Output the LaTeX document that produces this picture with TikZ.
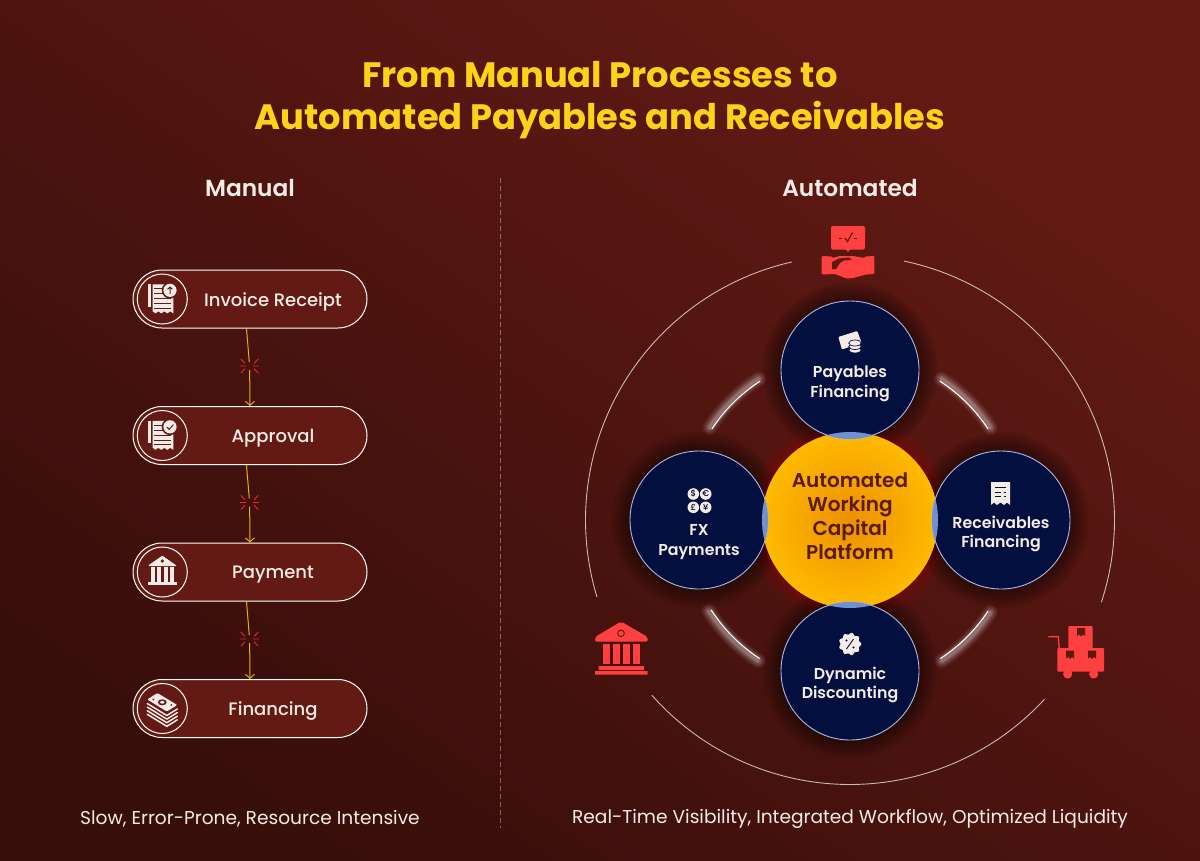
\documentclass[tikz,border=0pt]{standalone}
\usepackage{fontspec}
\setmainfont{Poppins}
\newfontfamily\pmed{Poppins Medium}
\newfontfamily\psemi{Poppins SemiBold}
\newfontfamily\pbold{Poppins Bold}
\usetikzlibrary{arrows.meta}
\definecolor{bgtop}{HTML}{631A14}
\definecolor{bgbot}{HTML}{380E0B}
\definecolor{pillred}{HTML}{641A14}
\definecolor{gold}{HTML}{FFD21A}
\definecolor{conn}{HTML}{E6B017}
\definecolor{burst}{HTML}{E8282E}
\definecolor{navy}{HTML}{03103F}
\definecolor{lens}{HTML}{7090D2}
\definecolor{rim}{HTML}{A5BAE6}
\definecolor{iconred}{HTML}{FF4040}
\definecolor{ink}{HTML}{F5ECE8}
\definecolor{darkbrown}{HTML}{5C1A0C}
\definecolor{coreout}{HTML}{FFBA00}
\definecolor{corein}{HTML}{EC9000}
\tikzset{
  pillbox/.style={draw=white,line width=1pt,fill=pillred,rectangle,rounded corners=29pt,minimum width=234pt,minimum height=58pt,inner sep=0pt},
  iconring/.style={draw=white,line width=1pt,fill=pillred,circle,minimum size=50pt,inner sep=0pt},
  pilltext/.style={text=ink,font=\pmed\fontsize{18}{22}\selectfont},
  headtext/.style={text=ink,font=\psemi\fontsize{23.3}{28}\selectfont},
  foottext/.style={text=ink,font=\fontsize{18.6}{22}\selectfont},
  titletext/.style={text=gold,font=\pbold\fontsize{35.3}{42}\selectfont,align=center},
  orbtext/.style={text=ink,font=\psemi\fontsize{15.8}{19.5}\selectfont,align=center},
  coretext/.style={text=darkbrown,font=\psemi\fontsize{20}{24}\selectfont,align=center},
  orb/.style={circle,minimum size=138pt,inner sep=0pt,fill=navy,draw=rim,line width=0.9pt},
  burstpt/.style={circle,minimum size=8pt,inner sep=0pt},
  link/.style={draw=conn,line width=1pt},
  arrowlink/.style={link,-{Straight Barb[length=4pt,width=9pt]}},
  ticks/.style={draw=burst,line width=0.9pt},
  outerring/.style={draw=white,draw opacity=0.7,line width=0.9pt},
  darkline/.style={draw=pillred,line width=0.9pt},
  navyline/.style={draw=navy,line width=0.9pt}
}
\newcommand{\docbody}[2]{%
 \begin{scope}[shift={(#1,#2)}]
  \fill[ink] (-14,-14.7) rectangle (-11.6,7.7);
  \fill[ink] (-9.6,-14.7) -- (11,-14.7) -- (11,14.3) -- (8,12.3) -- (5,14.3) -- (2,12.3) -- (-1,14.3) -- (-4,12.3) -- (-6.8,14.3) -- (-9.6,12.3) -- cycle;
  \draw[darkline] (-8,-10.5) -- (0,-10.5) (-8,-5.5) -- (2,-5.5) (-8,-0.5) -- (9,-0.5) (-8,4.5) -- (9,4.5) (-8,9) -- (9,9);
  \fill[pillred] (7.7,-8.7) circle[radius=8.3];
  \fill[ink] (7.7,-8.7) circle[radius=6.6];
 \end{scope}}
\newcommand{\burstmark}[2]{%
 \draw[ticks] (#1-9.5,#2) -- (#1-3.5,#2) (#1+3.5,#2) -- (#1+9.5,#2)
   (#1-8.7,#2-7) -- (#1-4.5,#2-2.7) (#1+8.7,#2-7) -- (#1+4.5,#2-2.7)
   (#1-8.7,#2+7) -- (#1-4.5,#2+2.7) (#1+8.7,#2+7) -- (#1+4.5,#2+2.7);}
\newcommand{\glowarc}[2]{%
 \foreach \w/\o in {15/0.05,12/0.07,9/0.09,6/0.12,3.5/0.15}{%
  \draw[white,opacity=\o,line width=\w pt,line cap=round] plot[domain=#1:#2,samples=40] ({850+168*cos(\x)},{520-168*sin(\x)});}
 \draw[white,line width=1.1pt] plot[domain=#1:#2,samples=40] ({850+165.4*cos(\x)},{520-165.4*sin(\x)});}
\newcommand{\orbshadow}[2]{%
 \foreach \r in {88,86,84,82,80,78,76,74,72}{%
  \fill[black,opacity=0.05] (#1,#2) circle[radius=\r];}}
\begin{document}
\begin{tikzpicture}[x=1pt,y=-1pt]
\useasboundingbox (0,0) rectangle (1200,860);
\shade[top color=bgtop,bottom color=bgbot,shading angle=-35] (0,0) rectangle (1200,860);

% titles
\node[titletext] (title) at (600,100) {From Manual Processes to\\Automated Payables and Receivables};
\node[headtext] (hmanual) at (250,188) {Manual};
\node[headtext] (hauto) at (850,188) {Automated};
\draw[white,opacity=0.35,line width=1pt,dash pattern=on 5pt off 3pt] (500,178) -- (500,828);
\node[foottext] (fleft) at (250,819) {Slow, Error-Prone, Resource Intensive};
\node[foottext] (fright) at (850,819) {Real-Time Visibility, Integrated Workflow, Optimized Liquidity};

% left flow
\node[pillbox] (p1) at (250,299) {};
\node[pillbox] (p2) at (250,435.5) {};
\node[pillbox] (p3) at (250,572) {};
\node[pillbox] (p4) at (250,708.5) {};
\node[iconring] (r1) at (162.3,299) {};
\node[iconring] (r2) at (162.3,435.5) {};
\node[iconring] (r3) at (162.3,572) {};
\node[iconring] (r4) at (162.3,708.5) {};
\node[pilltext] (t1) at (273,302) {Invoice Receipt};
\node[pilltext] (t2) at (273,438) {Approval};
\node[pilltext] (t3) at (273,575) {Payment};
\node[pilltext] (t4) at (273,711) {Financing};
\node[burstpt] (b1) at (249.6,366) {};
\node[burstpt] (b2) at (249.6,502.5) {};
\node[burstpt] (b3) at (249.6,639) {};
\burstmark{249.6}{366}
\burstmark{249.6}{502.5}
\burstmark{249.6}{639}
\draw[link] ([xshift=-3.5pt]p1.south) -- (b1);
\draw[arrowlink] (b1) -- (p2.north);
\draw[link] ([xshift=-3.5pt]p2.south) -- (b2);
\draw[arrowlink] (b2) -- (p3.north);
\draw[link] ([xshift=-3.5pt]p3.south) -- (b3);
\draw[arrowlink] (b3) -- (p4.north);

% invoice and approval icons
\docbody{162.3}{299}
\draw[pillred,line width=1pt] (170,294) -- (170,287) (167.6,289.3) -- (170,287) -- (172.4,289.3);
\docbody{162.3}{435.5}
\draw[pillred,line width=1pt] (166.8,427) -- (169.2,429.3) -- (173.4,424.6);
% bank icon
\begin{scope}[shift={(162.3,572)}]
 \fill[ink,rounded corners=0.8pt] (0,-16.3) -- (13.7,-6.8) -- (13.7,-5.8) -- (-13.7,-5.8) -- (-13.7,-6.8) -- cycle;
 \fill[pillred] (0,-11) circle[radius=1.8];
 \foreach \c in {-9.5,-3.2,3.2,9.5}{\fill[ink] (\c-2,-4.7) rectangle (\c+2,9.5);}
 \fill[ink] (-14.3,10.2) rectangle (14.3,13);
\end{scope}
% money icon
\begin{scope}[shift={(162.3,708.5)}]
 \fill[ink,rounded corners=1pt] (-15,-9) -- (-5,-15.5) -- (15,-3.5) -- (4.5,3) -- cycle;
 \fill[pillred] (0,-6.2) ellipse[x radius=4.4,y radius=3];
 \fill[ink] (0,-6.2) ellipse[x radius=2.2,y radius=1.4];
 \fill[pillred] (-9,-9) circle[radius=1] (9,-3.5) circle[radius=1];
 \foreach \k in {4,7.6,11.2,14.8}{\draw[ink,line width=1.5pt,line cap=round,line join=round] (-15,-9+\k) -- (4.5,3+\k) -- (15,-3.5+\k);}
\end{scope}

% outer ring
\draw[outerring] plot[domain=102.7:196.9,samples=80] ({850+264.5*cos(\x)},{520-264.5*sin(\x)});
\draw[outerring] plot[domain=221.5:317.3,samples=80] ({850+264.5*cos(\x)},{520-264.5*sin(\x)});
\draw[outerring] plot[domain=-18.1:78.2,samples=80] ({850+264.5*cos(\x)},{520-264.5*sin(\x)});

% orb shadows and core halo
\foreach \r in {102,99,96,93,90}{\fill[red!70!black,opacity=0.07] (850,520) circle[radius=\r];}
\orbshadow{850}{370}
\orbshadow{699}{520}
\orbshadow{1001}{520}
\orbshadow{850}{671}

% glow arcs
\glowarc{122.9}{146.6}
\glowarc{33.4}{57.1}
\glowarc{212.9}{236.9}
\glowarc{303.1}{326.6}

% core
\node[circle,minimum size=176pt,inner sep=0pt,inner color=corein,outer color=coreout] (core) at (850,520) {};

% orbs
\node[orb] (o1) at (850,370) {};
\node[orb] (o2) at (699,520) {};
\node[orb] (o3) at (1001,520) {};
\node[orb] (o4) at (850,671) {};
\foreach \cx/\cy in {850/370,699/520,1001/520,850/671}{
 \begin{scope}
  \clip (850,520) circle[radius=88];
  \fill[lens] (\cx,\cy) circle[radius=69];
 \end{scope}}
\node[coretext] (tc) at (850,516.5) {Automated\\Working\\Capital\\Platform};
\node[orbtext] (to1) at (850,384) {Payables\\Financing};
\node[orbtext] (to2) at (699,542) {FX\\Payments};
\node[orbtext] (to3) at (1001,534) {Receivables\\Financing};
\node[orbtext] (to4) at (850,685) {Dynamic\\Discounting};

% payables icon
\fill[ink,rounded corners=1pt] (838.3,337) -- (857.3,331) -- (861.5,342.5) -- (842,349.5) -- cycle;
\foreach \yy in {350,346.5,343}{
 \fill[ink,draw=navy,line width=0.7pt] (855,\yy) ellipse[x radius=6.3,y radius=3];}
% fx icon
\foreach \cx/\cy/\s in {693.3/494/\$,705.7/494/€,693.3/507.3/£,705.7/507.3/¥}{
 \fill[ink] (\cx,\cy) circle[radius=5.8];
 \node[text=navy,font=\pmed\fontsize{8.5}{8.5}\selectfont,inner sep=0pt] at (\cx,\cy) {\s};}
% receipt icon
\fill[ink,rounded corners=0.4pt] (991,482) -- (1010,482) -- (1010,505) -- (1007,502.5) -- (1004,505) -- (1000.5,502.5) -- (997,505) -- (994,502.5) -- (991,505) -- cycle;
\draw[navyline] (995,487.5) -- (1006,487.5) (995,492) -- (1001,492) (1003.5,492) -- (1006,492) (995,496) -- (1001,496) (1003.5,496) -- (1006,496);
% discount icon
\fill[ink] plot[domain=0:360,samples=90,smooth] ({850+(10.4+0.9*cos(9*\x))*cos(\x)},{644+(10.4+0.9*cos(9*\x))*sin(\x)}) -- cycle;
\draw[navyline] (846.5,649) -- (853.5,639);
\fill[navy] (846.5,640.5) circle[radius=1.1] (853.5,647.5) circle[radius=1.1];

% handshake icon
\fill[iconred,rounded corners=2pt] (831,226) rectangle (865,249.5);
\fill[iconred] (845.5,249) -- (850.5,249) -- (848,252) -- cycle;
\draw[darkbrown,line width=1pt] (839,238) -- (842,238) (854,238) -- (857,238);
\draw[darkbrown,line width=1.2pt] (845,238) -- (847.5,241.5) -- (852.5,232.5);
\fill[iconred,rounded corners=1pt] (821.7,256) -- (832,256.5) -- (832,258) -- (840,256) -- (853,256) -- (865,258) -- (865,256.5) -- (874.3,256) -- (874.3,274) -- (866,274.5) -- (853,278) -- (846.5,278.5) -- (835,274) -- (821.7,274.5) -- cycle;
\fill[darkbrown] (832,262) -- (839,258.5) -- (849,257.5) -- (852,260) -- (844,260.5) -- (840,263) -- (836,269) -- (832,269) -- cycle;
% red bank icon
\fill[iconred,rounded corners=2pt] (621,621.5) -- (647.7,637) -- (647.7,641.7) -- (595,641.7) -- (595,637) -- cycle;
\draw[darkbrown,line width=0.9pt] (621,633.3) circle[radius=3.3];
\foreach \c in {603.3,613.3,623.3,633.3}{\fill[iconred] (\c,644) rectangle (\c+7,664);}
\fill[iconred] (598.5,666) rectangle (644,670) (595,671) rectangle (647.7,674.5);
% red cart icon
\fill[iconred,rounded corners=1pt] (1068.3,626) rectangle (1092.7,650);
\fill[iconred,rounded corners=1pt] (1057.3,648) rectangle (1104,671.7);
\fill[iconred] (1067.7,674) circle[radius=4.6] (1093.7,674) circle[radius=4.6];
\draw[iconred,line width=1.3pt] (1048.3,636.7) -- (1058.3,636.7) -- (1059.3,650);
\fill[darkbrown] (1077,628) -- (1085,628) -- (1085,636) -- (1083,634.5) -- (1081,636.5) -- (1079,634.5) -- (1077,636) -- cycle;
\fill[darkbrown] (1066,650.5) -- (1074,650.5) -- (1074,658.5) -- (1072,657) -- (1070,659) -- (1068,657) -- (1066,658.5) -- cycle;
\fill[darkbrown] (1088,650.5) -- (1096,650.5) -- (1096,658.5) -- (1094,657) -- (1092,659) -- (1090,657) -- (1088,658.5) -- cycle;
\end{tikzpicture}
\end{document}
